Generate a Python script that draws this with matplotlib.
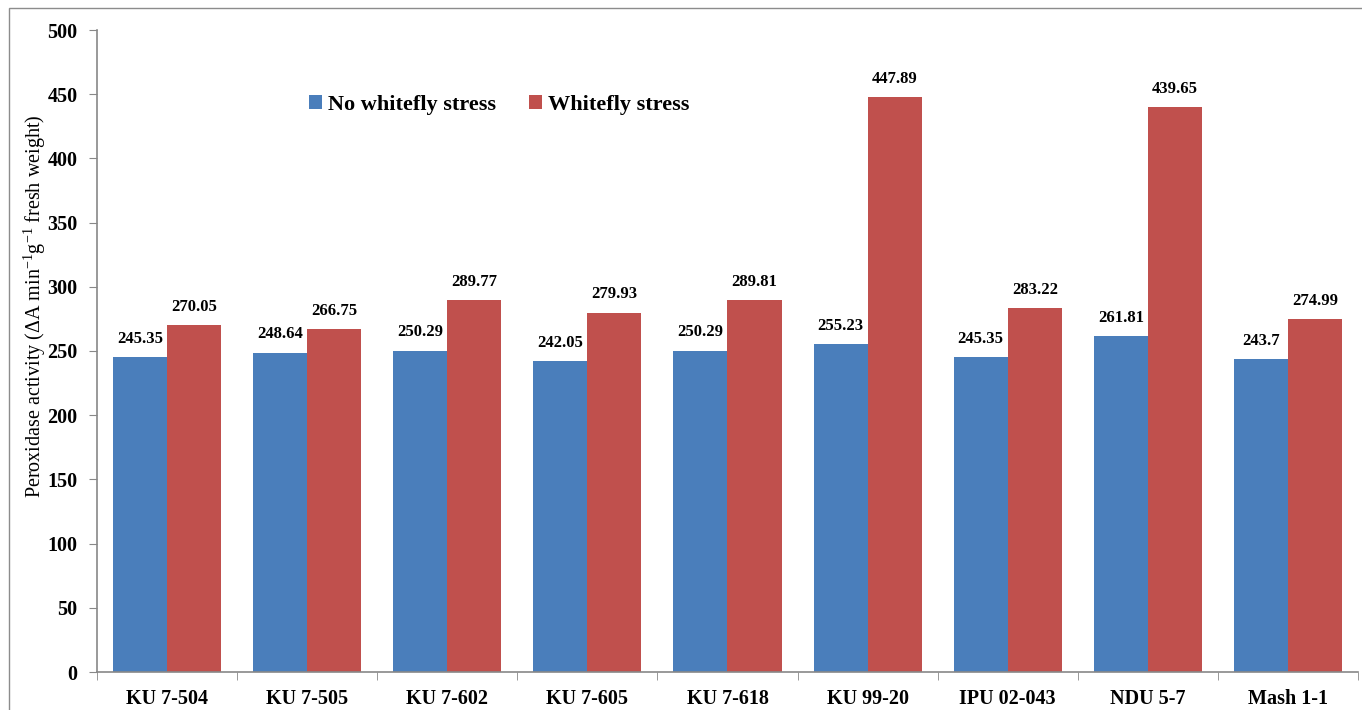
import matplotlib
matplotlib.use("Agg")
import matplotlib.pyplot as plt
import numpy as np
from matplotlib.patches import Rectangle

genotypes = ["KU 7-504", "KU 7-505", "KU 7-602", "KU 7-605", "KU 7-618",
             "KU 99-20", "IPU 02-043", "NDU 5-7", "Mash 1-1"]
no_stress = [245.35, 248.64, 250.29, 242.05, 250.29, 255.23, 245.35, 261.81, 243.7]
stress = [270.05, 266.75, 289.77, 279.93, 289.81, 447.89, 283.22, 439.65, 274.99]
no_stress_labels = ["245.35", "248.64", "250.29", "242.05", "250.29",
                    "255.23", "245.35", "261.81", "243.7"]
stress_labels = ["270.05", "266.75", "289.77", "279.93", "289.81",
                 "447.89", "283.22", "439.65", "274.99"]

plt.rcParams["font.family"] = ["Liberation Serif", "DejaVu Serif"]
plt.rcParams["mathtext.fontset"] = "custom"
plt.rcParams["mathtext.rm"] = "Liberation Serif"

fig = plt.figure(figsize=(13.62, 7.10), dpi=100)
ax = fig.add_axes([97 / 1362, 1 - 672 / 710, 1261 / 1362, 642 / 710])

x = np.arange(len(genotypes))
w = 0.386
blue = "#4A7EBB"
red = "#C0504D"
b1 = ax.bar(x - w / 2, no_stress, w, color=blue, label="No whitefly stress")
b2 = ax.bar(x + w / 2, stress, w, color=red, label="Whitefly stress")

for rect, lab in zip(b1, no_stress_labels):
    ax.text(rect.get_x() + rect.get_width() / 2, rect.get_height() + 8, lab,
            ha="center", va="bottom", fontsize=12, fontweight="bold")
for rect, lab in zip(b2, stress_labels):
    ax.text(rect.get_x() + rect.get_width() / 2, rect.get_height() + 8, lab,
            ha="center", va="bottom", fontsize=12, fontweight="bold")

ax.set_xlim(-0.5, len(genotypes) - 0.5)
ax.set_ylim(0, 500)
ax.set_yticks(np.arange(0, 501, 50))
ax.set_xticks(x)
ax.set_xticklabels(genotypes, fontsize=14.5, fontweight="bold")
ax.set_xticks(np.arange(-0.5, len(genotypes), 1), minor=True)
ax.tick_params(axis="x", which="major", length=0, pad=12)
ax.tick_params(axis="x", which="minor", length=6, color="#888888", direction="out")
ax.tick_params(axis="y", length=6, color="#888888", labelsize=14.5, pad=8)
for t in ax.get_yticklabels():
    t.set_fontweight("bold")

for s in ["top", "right"]:
    ax.spines[s].set_visible(False)
for s in ["left", "bottom"]:
    ax.spines[s].set_color("#888888")
    ax.spines[s].set_linewidth(1.2)

ax.set_ylabel("Peroxidase activity (\u0394A min$^{\\mathregular{-1}}$g$^{\\mathregular{-1}}$ fresh weight)",
              fontsize=14.5)
ax.yaxis.set_label_coords(-0.039, 0.57)

ax.legend(loc="upper left", bbox_to_anchor=(0.152, 0.93), ncol=2, frameon=False,
          prop={"weight": "bold", "size": 16}, handlelength=0.6, handleheight=0.6,
          handletextpad=0.25, columnspacing=1.5)

# outer frame around the whole chart
fig.patches.append(Rectangle((9 / 1362, -0.05), 1.2, 1 - 8 / 710 + 0.05,
                             transform=fig.transFigure, fill=False,
                             edgecolor="#8c8c8c", linewidth=1.0))

fig.savefig("out.png", dpi=100)
